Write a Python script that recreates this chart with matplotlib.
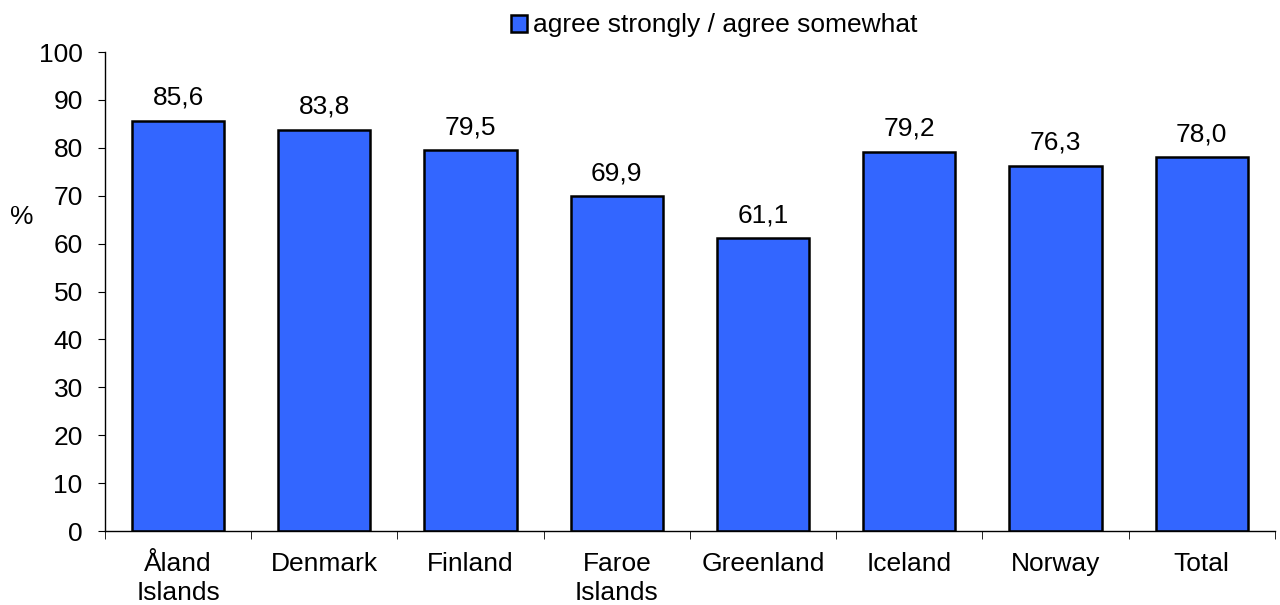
import matplotlib
matplotlib.use("Agg")
import matplotlib.pyplot as plt
import numpy as np
from matplotlib.patches import Patch

plt.rcParams['font.family'] = ['Liberation Sans', 'DejaVu Sans']

categories = ["Åland\nIslands", "Denmark", "Finland", "Faroe\nIslands", "Greenland", "Iceland", "Norway", "Total"]
values = [85.6, 83.8, 79.5, 69.9, 61.1, 79.2, 76.3, 78.0]
series_label = "agree strongly / agree somewhat"
yticks = [0, 10, 20, 30, 40, 50, 60, 70, 80, 90, 100]

FS = 19
fig = plt.figure(figsize=(12.8, 6.05), dpi=100)
ax = fig.add_axes([0.082, 0.1223, 0.914, 0.7917])
x = np.arange(len(categories))
bars = ax.bar(x, values, width=0.63, color="#3366FF", edgecolor="black", linewidth=1.8)
for xi, v in zip(x, values):
    ax.text(xi, v + 2.3, f"{v:.1f}".replace(".", ","), ha="center", va="bottom", fontsize=FS)

ax.set_xlim(-0.5, len(categories) - 0.5)
ax.set_ylim(0, 100)
ax.set_yticks(yticks)
ax.set_yticklabels([str(t) for t in yticks], fontsize=FS)
ax.set_xticks(x)
ax.set_xticklabels(categories, fontsize=FS, linespacing=1.25)
ax.tick_params(axis="x", length=0, pad=15)
ax.set_xticks(np.arange(-0.5, len(categories)), minor=True)
ax.tick_params(axis="x", which="minor", length=6, direction="out")
ax.tick_params(axis="y", length=5, direction="out", pad=11)
for s in ["top", "right"]:
    ax.spines[s].set_visible(False)
ax.spines["left"].set_linewidth(1)
ax.spines["bottom"].set_linewidth(1)

ax.set_ylabel("%", rotation=0, fontsize=FS)
ax.yaxis.set_label_coords(-0.071, 0.63)

handle = Patch(facecolor="#3366FF", edgecolor="black", linewidth=1.8)
fig.legend([handle], [series_label], loc="upper center", bbox_to_anchor=(0.558, 1.017),
           frameon=False, fontsize=FS, handlelength=0.6, handleheight=0.6, handletextpad=0.2)

fig.savefig("out.png", dpi=100)
